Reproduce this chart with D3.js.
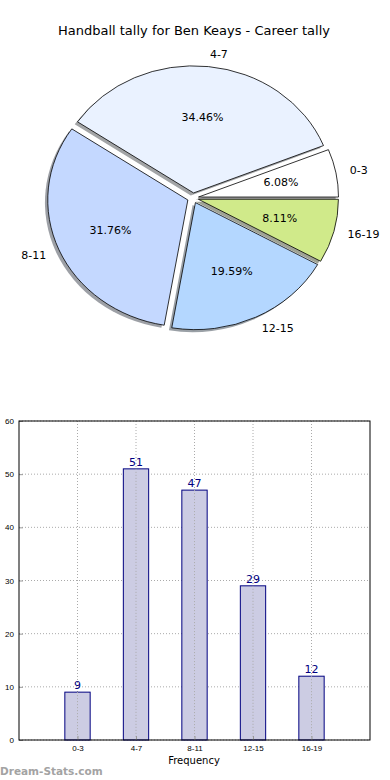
<!DOCTYPE html>
<html>
<head>
<meta charset="utf-8">
<script src="https://cdn.jsdelivr.net/npm/d3@7"></script>
<style>
body { margin: 0; background: #fff; }
svg { display: block; font-family: "DejaVu Sans", sans-serif; }
</style>
</head>
<body>
<svg width="390" height="780"></svg>
<script>
var title = "Handball tally for Ben Keays - Career tally";
var categories = ["0-3", "4-7", "8-11", "12-15", "16-19"];
var counts = [9, 51, 47, 29, 12];
var sliceColors = ["#ffffff", "#eaf2ff", "#c4d8ff", "#b4d7ff", "#d0ea8a"];
var yTicks = [0, 10, 20, 30, 40, 50, 60];

var svg = d3.select("svg");

svg.append("text")
  .attr("x", 194).attr("y", 35)
  .attr("text-anchor", "middle")
  .style("font-size", "13px")
  .text(title);

// ---- pie (matplotlib style: starts at 3 o'clock, counter-clockwise, elliptical) ----
var cx = 193, cy = 198, rx = 140, ry = 127, explode = 0.04;
var total = d3.sum(counts);

var pie = d3.pie().sort(null)
  .startAngle(Math.PI / 2)
  .endAngle(Math.PI / 2 - 2 * Math.PI);

var arcs = pie(counts);
var arc = d3.arc().innerRadius(0).outerRadius(1);

// direction of a slice middle, in unit circle coords (screen y down)
function mid(d) {
  var a = (d.startAngle + d.endAngle) / 2;
  return [Math.sin(a), -Math.cos(a)];
}

var pieG = svg.append("g");

// shadows first
pieG.selectAll(".shadow").data(arcs).enter().append("path")
  .attr("class", "shadow")
  .attr("d", arc)
  .attr("transform", function (d) {
    var m = mid(d);
    return "translate(" + (cx + m[0] * explode * rx - 0.02 * rx) + "," + (cy + m[1] * explode * ry + 0.02 * ry) + ") scale(" + rx + "," + ry + ")";
  })
  .attr("fill", function (d, i) {
    var c = d3.rgb(sliceColors[i]);
    return d3.rgb(c.r * 0.3, c.g * 0.3, c.b * 0.3);
  })
  .attr("fill-opacity", 0.5);

pieG.selectAll(".slice").data(arcs).enter().append("path")
  .attr("class", "slice")
  .attr("d", arc)
  .attr("transform", function (d) {
    var m = mid(d);
    return "translate(" + (cx + m[0] * explode * rx) + "," + (cy + m[1] * explode * ry) + ") scale(" + rx + "," + ry + ")";
  })
  .attr("fill", function (d, i) { return sliceColors[i]; })
  .attr("stroke", "#000")
  .attr("stroke-width", 0.8)
  .attr("vector-effect", "non-scaling-stroke");

// category labels at 1.1 r
pieG.selectAll(".lab").data(arcs).enter().append("text")
  .attr("x", function (d) { var m = mid(d); return cx + m[0] * (explode + 1.1) * rx; })
  .attr("y", function (d) { var m = mid(d); return cy + m[1] * (explode + 1.1) * ry; })
  .attr("dy", "0.35em")
  .attr("text-anchor", function (d) { return mid(d)[0] > 0 ? "start" : "end"; })
  .style("font-size", "11px")
  .text(function (d, i) { return categories[i]; });

// percentage labels at 0.6 r
pieG.selectAll(".pct").data(arcs).enter().append("text")
  .attr("x", function (d) { var m = mid(d); return cx + m[0] * (explode + 0.6) * rx; })
  .attr("y", function (d) { var m = mid(d); return cy + m[1] * (explode + 0.6) * ry; })
  .attr("dy", "0.35em")
  .attr("text-anchor", "middle")
  .style("font-size", "11px")
  .text(function (d) { return (d.value / total * 100).toFixed(2) + "%"; });

// ---- bar chart ----
var bx0 = 19, bx1 = 370, by0 = 421, by1 = 740;
var x = d3.scaleLinear().domain([-1, 5]).range([bx0, bx1]);
var y = d3.scaleLinear().domain([0, 60]).range([by1, by0]);
var barW = 0.45;

var bar = svg.append("g");

// grid
bar.selectAll(".gx").data(categories).enter().append("line")
  .attr("x1", function (d, i) { return x(i); }).attr("x2", function (d, i) { return x(i); })
  .attr("y1", by0).attr("y2", by1)
  .attr("stroke", "#aaa").attr("stroke-dasharray", "1,2");
bar.selectAll(".gy").data(yTicks).enter().append("line")
  .attr("x1", bx0).attr("x2", bx1)
  .attr("y1", function (d) { return y(d); }).attr("y2", function (d) { return y(d); })
  .attr("stroke", "#aaa").attr("stroke-dasharray", "1,2");

bar.selectAll(".bar").data(counts).enter().append("rect")
  .attr("x", function (d, i) { return x(i - barW / 2) + 0.5; })
  .attr("width", function () { return x(barW) - x(0) - 1; })
  .attr("y", function (d) { return y(d); })
  .attr("height", function (d) { return y(0) - y(d); })
  .attr("fill", "#cccce3")
  .attr("stroke", "#000080")
  .attr("stroke-width", 1);

// grid line visible through the bars
bar.selectAll(".gx2").data(categories).enter().append("line")
  .attr("x1", function (d, i) { return x(i); }).attr("x2", function (d, i) { return x(i); })
  .attr("y1", function (d, i) { return y(counts[i]); }).attr("y2", by1)
  .attr("stroke", "#aaa").attr("stroke-dasharray", "1,2");

bar.selectAll(".val").data(counts).enter().append("text")
  .attr("x", function (d, i) { return x(i); })
  .attr("y", function (d) { return y(d) - 3; })
  .attr("text-anchor", "middle")
  .attr("fill", "#000080")
  .style("font-size", "11px")
  .text(function (d) { return d; });

// axes
var yAxis = d3.axisLeft(y).tickValues(yTicks).tickSize(-4).tickPadding(5);
var xAxis = d3.axisBottom(x).tickValues(d3.range(categories.length))
  .tickFormat(function (d) { return categories[d]; }).tickSize(-4).tickPadding(5);

var ya = bar.append("g").attr("transform", "translate(" + bx0 + ",0)").call(yAxis);
var xa = bar.append("g").attr("transform", "translate(0," + by1 + ")").call(xAxis);
[ya, xa].forEach(function (g) {
  g.select(".domain").remove();
  g.selectAll(".tick line").attr("stroke", "#999");
  g.selectAll(".tick text").style("font-size", "8px").attr("fill", "#000");
});

bar.append("rect")
  .attr("x", bx0).attr("y", by0)
  .attr("width", bx1 - bx0).attr("height", by1 - by0)
  .attr("fill", "none").attr("stroke", "#000").attr("stroke-width", 1);

svg.append("text")
  .attr("x", 194).attr("y", 764)
  .attr("text-anchor", "middle")
  .style("font-size", "10px")
  .text("Frequency");

svg.append("text")
  .attr("x", 0).attr("y", 775)
  .attr("fill", "#a3a3a3")
  .style("font-size", "10.5px")
  .style("font-weight", "bold")
  .text("Dream-Stats.com");
</script>
</body>
</html>
